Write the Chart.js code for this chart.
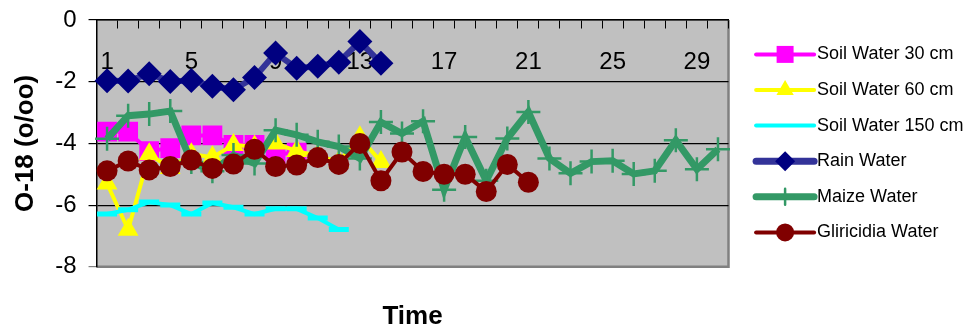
<!DOCTYPE html>
<html>
<head>
<meta charset="utf-8">
<script src="https://cdn.jsdelivr.net/npm/chart.js@4.4.1/dist/chart.umd.min.js"></script>
<style>
  html, body { margin: 0; padding: 0; background: #fff; }
  #wrap { width: 966px; height: 332px; }
</style>
</head>
<body>
<div id="wrap"><canvas id="isoChart"></canvas></div>
<script>
// categories (sampling times)
const times = ['1', '2', '3', '4', '5', '6', '7', '8', '9', '10', '11', '12', '13', '14', '15',
  '16', '17', '18', '19', '20', '21', '22', '23', '24', '25', '26', '27', '28', '29', '30'];
const yTicks = [0, -2, -4, -6, -8];

// O-18 values
const soil30 = [-3.62, -3.62, -4.25, -4.15, -3.74, -3.74, -4.05, -4.05, -4.35, -4.3];
const soil60 = [-5.3, -6.8, -4.35, -4.8, -4.35, -4.45, -4.05, -4.1, -4.0, -4.25, -4.4, -4.6, -3.8, -4.6];
const soil150 = [-6.29, -6.15, -5.9, -6.0, -6.29, -5.93, -6.07, -6.29, -6.12, -6.12, -6.42, -6.79];
const rain = [-1.97, -1.98, -1.74, -1.99, -1.96, -2.15, -2.26, -1.86, -1.07, -1.56, -1.5, -1.37, -0.7, -1.4];
const maize = [-3.85, -3.1, -3.05, -2.95, -4.6, -4.9, -4.38, -4.65, -3.57, -3.72, -3.95, -4.1, -4.49, -3.31, -3.68,
  -3.28, -5.5, -3.79, -5.21, -3.84, -2.98, -4.49, -4.97, -4.59, -4.56, -4.99, -4.89, -3.9, -4.84, -4.19];
const gliricidia = [-4.89, -4.57, -4.86, -4.75, -4.54, -4.81, -4.67, -4.19, -4.75, -4.7, -4.46, -4.68, -4.0, -5.21,
  -4.28, -4.91, -5.0, -5.0, -5.56, -4.68, -5.26];

const FONT = "'Liberation Sans', Arial, sans-serif";

// grey plot area like the old spreadsheet charts
const plotBackground = {
  id: 'plotBackground',
  beforeDraw(chart) {
    const { ctx, chartArea: a } = chart;
    ctx.save();
    ctx.fillStyle = '#c0c0c0';
    ctx.fillRect(a.left, a.top, a.right - a.left, a.bottom - a.top);
    ctx.strokeStyle = '#808080';
    ctx.lineWidth = 2.5;
    ctx.beginPath();
    ctx.moveTo(a.right, a.top);
    ctx.lineTo(a.right, a.bottom);
    ctx.lineTo(a.left, a.bottom);
    ctx.stroke();
    ctx.restore();
  }
};

// legend samples: line with the marker in the middle
const legendSamples = {
  id: 'legendSamples',
  afterDraw(chart) {
    const legend = chart.legend;
    if (!legend || !legend.legendHitBoxes) return;
    const ctx = chart.ctx;
    legend.legendItems.forEach((item, i) => {
      const hb = legend.legendHitBoxes[i];
      const ds = chart.data.datasets[item.datasetIndex];
      const y = hb.top + hb.height / 2;
      const x0 = hb.left + 10, x1 = hb.left + 68;
      ctx.save();
      ctx.strokeStyle = ds.borderColor;
      ctx.lineWidth = ds.legendLine;
      ctx.lineCap = 'round';
      ctx.beginPath();
      ctx.moveTo(x0, y);
      ctx.lineTo(x1, y);
      ctx.stroke();
      if (ds.pointStyle !== 'line') {
        ctx.fillStyle = ds.pointBackgroundColor;
        ctx.strokeStyle = ds.pointBorderColor;
        ctx.lineWidth = ds.pointBorderWidth;
        Chart.helpers.drawPoint(ctx, {
          pointStyle: ds.pointStyle,
          radius: ds.legendRadius,
          borderWidth: ds.pointBorderWidth
        }, (x0 + x1) / 2, y);
      }
      ctx.restore();
    });
  }
};

const ctx = document.getElementById('isoChart').getContext('2d');

const chart = new Chart(ctx, {
  type: 'line',
  data: {
    labels: times,
    datasets: [
      {
        label: 'Soil Water 30 cm', data: soil30, order: 6,
        borderColor: '#ff00ff', borderWidth: 4, legendLine: 4,
        pointStyle: 'rect', pointRadius: 14, legendRadius: 12,
        pointBackgroundColor: '#ff00ff', pointBorderColor: '#ff00ff', pointBorderWidth: 0
      },
      {
        label: 'Soil Water 60 cm', data: soil60, order: 5,
        borderColor: '#ffff00', borderWidth: 4, legendLine: 4,
        pointStyle: 'triangle', pointRadius: 12, legendRadius: 10,
        pointBackgroundColor: '#ffff00', pointBorderColor: '#ffff00', pointBorderWidth: 0
      },
      {
        label: 'Soil Water 150 cm', data: soil150, order: 4,
        borderColor: '#00ffff', borderWidth: 4, legendLine: 4,
        pointStyle: 'line', pointRadius: 10, legendRadius: 10,
        pointBackgroundColor: '#00ffff', pointBorderColor: '#00ffff', pointBorderWidth: 5
      },
      {
        label: 'Rain Water', data: rain, order: 3,
        borderColor: '#333399', borderWidth: 6, legendLine: 7,
        pointStyle: 'rectRot', pointRadius: 12.5, legendRadius: 10,
        pointBackgroundColor: '#000080', pointBorderColor: '#000080', pointBorderWidth: 0
      },
      {
        label: 'Maize Water', data: maize, order: 2,
        borderColor: '#339966', borderWidth: 7, legendLine: 7,
        pointStyle: 'cross', pointRadius: 12, legendRadius: 8,
        pointBackgroundColor: '#339966', pointBorderColor: '#339966', pointBorderWidth: 2.5
      },
      {
        label: 'Gliricidia Water', data: gliricidia, order: 1,
        borderColor: '#800000', borderWidth: 4, legendLine: 4,
        pointStyle: 'circle', pointRadius: 10.5, legendRadius: 9,
        pointBackgroundColor: '#800000', pointBorderColor: '#800000', pointBorderWidth: 0
      }
    ]
  },
  options: {
    responsive: true,
    maintainAspectRatio: false,
    animation: false,
    layout: { padding: { top: 20, left: 10, right: -2, bottom: 0 } },
    elements: { line: { tension: 0 }, point: { hoverRadius: 12 } },
    plugins: {
      tooltip: { enabled: false },
      title: {
        display: true, text: 'Time', position: 'bottom', fullSize: false,
        color: '#000', font: { family: FONT, size: 26, weight: 'bold' },
        padding: { top: 34, bottom: 0 }
      },
      legend: {
        position: 'right', fullSize: false, align: 'center',
        labels: {
          color: '#000', font: { family: FONT, size: 18 },
          boxWidth: 62, boxHeight: 18, padding: 17.6,
          sort: (a, b) => a.datasetIndex - b.datasetIndex,
          generateLabels(chart) {
            const items = Chart.defaults.plugins.legend.labels.generateLabels(chart);
            return items.map(it => Object.assign(it, {
              fillStyle: 'rgba(0,0,0,0)', strokeStyle: 'rgba(0,0,0,0)', lineWidth: 0
            }));
          }
        }
      }
    },
    scales: {
      x: {
        position: { y: 0 },
        offset: true,
        afterFit: (s) => { s.paddingTop = 0; },
        grid: { drawOnChartArea: false, drawTicks: true, tickLength: 8, color: '#000', offset: true },
        border: { display: true, color: '#000', width: 1.5 },
        ticks: {
          autoSkip: false, maxRotation: 0, padding: 20,
          color: '#000', font: { family: FONT, size: 24 },
          callback: function (val, i) { return i % 4 === 0 ? this.getLabelForValue(val) : ''; }
        }
      },
      y: {
        min: -8, max: 0,
        afterFit: (s) => { s.paddingTop = 0; },
        afterBuildTicks: (scale) => { scale.ticks = yTicks.map(v => ({ value: v })); },
        grid: { color: (c) => c.tick && c.tick.value === -8 ? '#808080' : '#000', lineWidth: 1.2, tickLength: 8 },
        border: { display: true, color: '#000', width: 1.5 },
        ticks: { color: '#000', padding: 12, font: { family: FONT, size: 24 } },
        title: {
          display: true, text: 'O-18 (o/oo)', color: '#000',
          font: { family: FONT, size: 26, weight: 'bold' }, padding: { top: 0, bottom: 2 }
        }
      }
    }
  },
  plugins: [plotBackground, legendSamples]
});
</script>
</body>
</html>
